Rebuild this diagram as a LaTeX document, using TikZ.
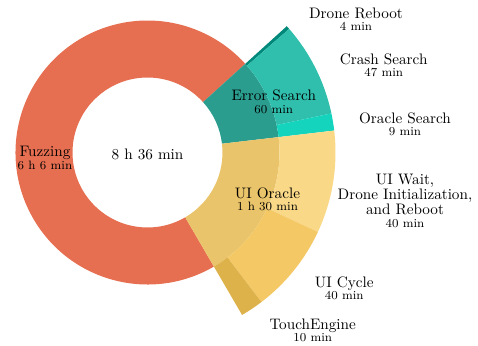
\documentclass[tikz,border=0pt]{standalone}
\usepackage{xcolor}
\usepackage{tikz}
\usetikzlibrary{positioning}

\definecolor{fuzzred}{HTML}{E76F51}
\definecolor{errteal}{HTML}{2A9D8F}
\definecolor{oracleyellow}{HTML}{E9C46A}
\definecolor{rebootteal}{HTML}{00897B}
\definecolor{crashteal}{HTML}{30BFAD}
\definecolor{searchteal}{HTML}{14D4BE}
\definecolor{waityellow}{HTML}{F9D888}
\definecolor{cycleyellow}{HTML}{F4C865}
\definecolor{touchyellow}{HTML}{DDB24A}

\begin{document}
\begin{tikzpicture}[x=0.02312cm, y=0.02312cm,
    lbl/.style={inner sep=0pt, anchor=base},
    sublbl/.style={inner sep=0pt, anchor=base, font=\footnotesize}]
    \useasboundingbox (-147.5,-193.5) rectangle (330.5,152.5);
    % inner ring
    \foreach \a/\b/\c in {42.2/300.2/fuzzred, 6.7/42.2/errteal, -59.8/6.7/oracleyellow}
        \fill[\c] (\a:75) arc[start angle=\a, end angle=\b, radius=75] -- (\b:132) arc[start angle=\b, end angle=\a, radius=132] -- cycle;
    % outer ring
    \foreach \a/\b/\c in {41.1/42.2/rebootteal, 12/41.1/crashteal, 6.7/12/searchteal, -25/6.7/waityellow, -52.7/-25/cycleyellow, -59.8/-52.7/touchyellow}
        \fill[\c] (\a:132) arc[start angle=\a, end angle=\b, radius=132] -- (\b:188) arc[start angle=\b, end angle=\a, radius=188] -- cycle;
    % labels
    \node[lbl] (total) at (0,-7.5) {8 h 36 min};
    \node[lbl] (fuzzing) at (-102.5,-4.2) {Fuzzing};
    \node[below=8.2pt of fuzzing.base, sublbl] (fuzzingtime) {6 h 6 min};
    \node[lbl] (errsearch) at (126.3,51.8) {Error Search};
    \node[below=8.2pt of errsearch.base, sublbl] (errsearchtime) {60 min};
    \node[lbl] (uioracle) at (120,-45.8) {UI Oracle};
    \node[below=8.2pt of uioracle.base, sublbl] (uioracletime) {1 h 30 min};
    \node[lbl] (reboot) at (208.5,134.2) {Drone Reboot};
    \node[below=8.2pt of reboot.base, sublbl] (reboottime) {4 min};
    \node[lbl] (crash) at (236.2,88.2) {Crash Search};
    \node[below=8.2pt of crash.base, sublbl] (crashtime) {47 min};
    \node[lbl] (oraclesearch) at (257.5,29.2) {Oracle Search};
    \node[below=8.2pt of oraclesearch.base, sublbl] (oraclesearchtime) {9 min};
    \node[lbl, align=center, font=\fontsize{10}{10}\selectfont] (uiwait) at (257.5,-62.5) {UI Wait,\\Drone Initialization,\\and Reboot};
    \node[below=8.2pt of uiwait.base, sublbl] (uiwaittime) {40 min};
    \node[lbl] (uicycle) at (196.7,-134.8) {UI Cycle};
    \node[below=8.2pt of uicycle.base, sublbl] (uicycletime) {40 min};
    \node[lbl] (touch) at (165.2,-176.8) {TouchEngine};
    \node[below=8.2pt of touch.base, sublbl] (touchtime) {10 min};
\end{tikzpicture}
\end{document}
